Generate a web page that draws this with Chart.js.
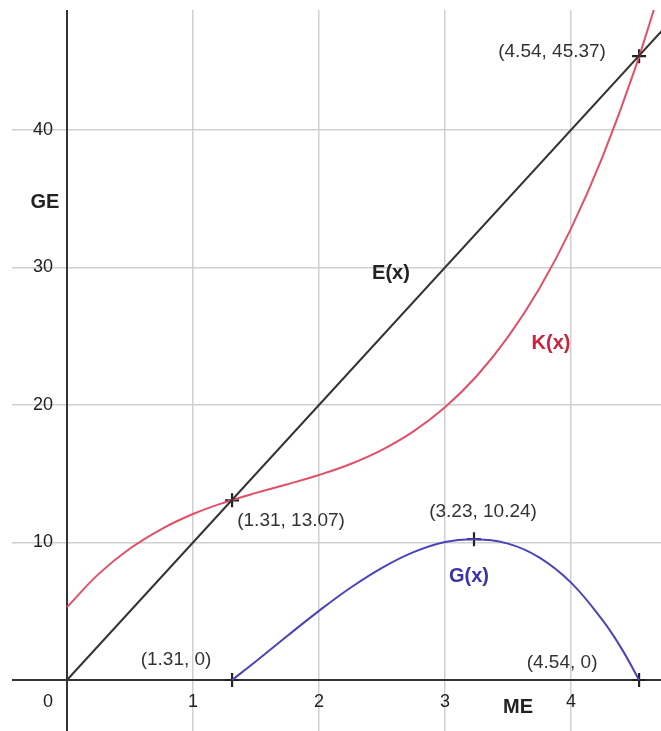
<!DOCTYPE html>
<html>
<head>
<meta charset="utf-8">
<script src="https://cdn.jsdelivr.net/npm/chart.js@4/dist/chart.umd.min.js"></script>
<style>
  body { margin: 0; background: #fff; }
  canvas { display: block; }
</style>
</head>
<body>
<canvas id="grafico" width="661" height="731"></canvas>
<script>
// valores
const eX = [0, 4.8];
const eY = [0, 48];

const kX = [0, 0.25, 0.5, 0.75, 1, 1.25, 1.5, 1.75, 2, 2.25, 2.5, 2.75, 3, 3.25, 3.5, 3.75, 4, 4.25, 4.5, 4.75];
const kY = [5.3, 7.7, 9.56, 10.98, 12.07, 12.91, 13.61, 14.24, 14.91, 15.71, 16.74, 18.08, 19.83, 22.09, 24.95, 28.49, 32.83, 38.05, 44.24, 51.5];

const gX = [1.31, 1.5, 1.75, 2, 2.25, 2.5, 2.75, 3, 3.23, 3.5, 3.75, 4, 4.25, 4.4, 4.54];
const gY = [0, 1.37, 3.22, 5.03, 6.71, 8.16, 9.3, 10.04, 10.24, 9.92, 8.9, 7.08, 4.35, 2.3, 0];

const ptX = [1.31, 3.23, 4.54, 1.31, 4.54];
const ptY = [13.07, 10.24, 45.37, 0, 0];
const ptLabels = ["(1.31, 13.07)", "(3.23, 10.24)", "(4.54, 45.37)", "(1.31, 0)", "(4.54, 0)"];

const xTicks = [0, 1, 2, 3, 4];
const yTicks = [10, 20, 30, 40];

const toXY = (xs, ys) => xs.map((x, i) => ({ x: x, y: ys[i] }));

// ejes, etiquetas y textos
const textos = {
  id: "textos",
  beforeDatasetsDraw(chart) {
    const { ctx, chartArea: a, scales: { x, y } } = chart;
    ctx.save();
    ctx.strokeStyle = "#333";
    ctx.lineWidth = 2;
    ctx.beginPath();
    ctx.moveTo(x.getPixelForValue(0), a.top);
    ctx.lineTo(x.getPixelForValue(0), a.bottom);
    ctx.moveTo(a.left, y.getPixelForValue(0));
    ctx.lineTo(a.right, y.getPixelForValue(0));
    ctx.stroke();
    ctx.restore();
  },
  afterDraw(chart) {
    const { ctx, scales: { x, y } } = chart;
    const px = v => x.getPixelForValue(v);
    const py = v => y.getPixelForValue(v);
    ctx.save();
    ctx.textBaseline = "middle";

    // números de los ejes
    ctx.fillStyle = "#222";
    ctx.font = "18px 'Liberation Sans', Arial, sans-serif";
    ctx.textAlign = "center";
    xTicks.forEach(t => {
      ctx.fillText(String(t), t === 0 ? px(0) - 19 : px(t), py(0) + 22);
    });
    ctx.textAlign = "right";
    yTicks.forEach(t => ctx.fillText(String(t), px(0) - 14, py(t)));

    // puntos marcados (texto centrado respecto al punto)
    const offs = [[59, 20], [9, -27], [-87, -4], [-56, -20], [-77, -17]];
    ctx.font = "19px 'Liberation Sans', Arial, sans-serif";
    ctx.fillStyle = "#333";
    ctx.textAlign = "center";
    ptLabels.forEach((lab, i) => {
      ctx.fillText(lab, px(ptX[i]) + offs[i][0], py(ptY[i]) + offs[i][1]);
    });

    // nombres
    ctx.font = "bold 20px 'Liberation Sans', Arial, sans-serif";
    ctx.fillStyle = "#222";
    ctx.fillText("GE", 45, 202);
    ctx.fillText("ME", 518, 707);
    ctx.fillText("E(x)", 391, 273);
    ctx.fillStyle = "#c8243c";
    ctx.fillText("K(x)", 551, 343);
    ctx.fillStyle = "#3a33a8";
    ctx.fillText("G(x)", 469, 576);
    ctx.restore();
  }
};

const onlyInts = skip => scale => {
  scale.ticks = scale.ticks.filter(t => Number.isInteger(t.value) && t.value !== 0 && t.value % skip === 0);
};

const chart = new Chart(document.getElementById("grafico"), {
  type: "scatter",
  data: {
    datasets: [
      { label: "E(x)", data: toXY(eX, eY), showLine: true, borderColor: "#333", borderWidth: 2, pointRadius: 0 },
      { label: "K(x)", data: toXY(kX, kY), showLine: true, borderColor: "#e0506a", borderWidth: 2, pointRadius: 0, tension: 0.4 },
      { label: "G(x)", data: toXY(gX, gY), showLine: true, borderColor: "#4a44b8", borderWidth: 2, pointRadius: 0, tension: 0.4 },
      { label: "puntos", data: toXY(ptX, ptY), pointStyle: "cross", pointRadius: 7, borderColor: "#222", borderWidth: 2.2 }
    ]
  },
  options: {
    responsive: false,
    animation: false,
    layout: { padding: { top: 10, left: 12, right: 0, bottom: 0 } },
    plugins: { legend: { display: false }, tooltip: { enabled: false } },
    scales: {
      x: {
        type: "linear", min: -0.4365, max: 4.714,
        ticks: { display: false, stepSize: 1 },
        grid: { color: "#cfcfcf", lineWidth: 1.5, drawTicks: false },
        border: { display: false },
        afterBuildTicks: onlyInts(1)
      },
      y: {
        type: "linear", min: -3.709, max: 48.727,
        ticks: { display: false, stepSize: 10 },
        grid: { color: "#cfcfcf", lineWidth: 1.5, drawTicks: false },
        border: { display: false },
        afterBuildTicks: onlyInts(10)
      }
    }
  },
  plugins: [textos]
});

// sin margen extra por el tamaño de los puntos: el área llega al borde
chart.data.datasets.forEach((d, i) => {
  chart.getDatasetMeta(i).controller.getMaxOverflow = () => 0;
});
chart.update();
</script>
</body>
</html>
